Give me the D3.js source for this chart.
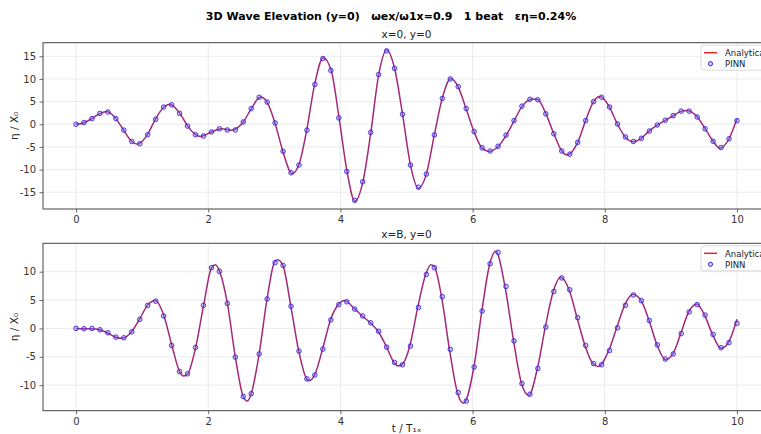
<!DOCTYPE html>
<html>
<head>
<meta charset="utf-8">
<script src="https://cdn.jsdelivr.net/npm/d3@7"></script>
<style>
  html, body { margin: 0; padding: 0; background: #fff; overflow: hidden; }
  svg { display: block; font-family: "DejaVu Sans", sans-serif; }
  .suptitle { white-space: pre; }
</style>
</head>
<body>
<svg id="chart" width="761" height="434"></svg>
<script>
// PINN evaluation times (t / T1x), 84 samples over 0..10
const pinnTimes = [0, 0.120, 0.241, 0.361, 0.482, 0.602, 0.723, 0.843, 0.964, 1.084,
  1.205, 1.325, 1.446, 1.566, 1.687, 1.807, 1.928, 2.048, 2.169, 2.289,
  2.410, 2.530, 2.651, 2.771, 2.892, 3.012, 3.133, 3.253, 3.373, 3.494,
  3.614, 3.735, 3.855, 3.976, 4.096, 4.217, 4.337, 4.458, 4.578, 4.699,
  4.819, 4.940, 5.060, 5.181, 5.301, 5.422, 5.542, 5.663, 5.783, 5.904,
  6.024, 6.145, 6.265, 6.386, 6.506, 6.627, 6.747, 6.867, 6.988, 7.108,
  7.229, 7.349, 7.470, 7.590, 7.711, 7.831, 7.952, 8.072, 8.193, 8.313,
  8.434, 8.554, 8.675, 8.795, 8.916, 9.036, 9.157, 9.277, 9.398, 9.518,
  9.639, 9.759, 9.880, 10.000];

// PINN elevation at x=0, y=0
const pinnEtaX0 = [0, 0.37, 1.25, 2.4, 2.7, 1.25, -1.3, -3.8, -4.3, -2.3,
  1.1, 3.8, 4.3, 2.4, -0.4, -2.3, -2.6, -1.7, -1.0, -1.25,
  -1.25, 0.5, 3.46, 5.96, 4.9, 0.3, -5.96, -10.7, -9.0, -1.3,
  8.8, 14.5, 11.9, 1.4, -10.4, -16.8, -12.7, -1.8, 10.96, 16.2,
  12.35, 2.2, -9.0, -13.9, -11.0, -2.35, 5.7, 10.0, 8.3, 3.46,
  -1.6, -5.2, -5.9, -4.85, -2.4, 0.8, 4.0, 5.5, 5.4, 2.3,
  -2.1, -5.9, -6.6, -4.0, 0.8, 5.0, 5.96, 3.8, 0.07, -2.8,
  -3.8, -3.1, -1.5, -0.15, 0.9, 1.9, 2.9, 2.9, 1.6, -1.0,
  -3.75, -5.15, -3.2, 0.8];

// PINN elevation at x=B, y=0
const pinnEtaXB = [0, -0.06, 0, -0.24, -0.76, -1.53, -1.65, -0.6, 1.6, 4.06,
  4.8, 2.2, -3.0, -7.6, -8.0, -3.35, 4.06, 10.7, 10.06, 4.4,
  -5.06, -12.0, -11.5, -4.5, 5.2, 11.6, 11.1, 3.9, -4.0, -8.9,
  -8.2, -3.65, 1.5, 4.2, 4.7, 3.4, 2.2, 1.0, -0.5, -3.3,
  -6.0, -6.4, -3.1, 3.7, 9.5, 10.7, 5.6, -3.7, -11.3, -12.8,
  -6.8, 3.06, 11.4, 13.4, 7.4, -2.2, -9.7, -11.6, -7.06, 0.24,
  6.5, 8.9, 6.8, 1.9, -3.0, -6.2, -6.4, -3.9, 0.1, 4.06,
  5.9, 4.9, 1.4, -2.9, -5.4, -4.5, -0.9, 2.9, 4.2, 2.35,
  -1.06, -3.4, -2.5, 0.9];

// Analytical solution at x=0, y=0
const analyticTimesX0 = [0, 0.12, 0.24, 0.36, 0.47, 0.60, 0.72, 0.84, 0.93, 1.08,
  1.20, 1.33, 1.42, 1.57, 1.69, 1.81, 1.88, 2.05, 2.20, 2.35,
  2.53, 2.65, 2.79, 2.89, 3.01, 3.13, 3.27, 3.37, 3.49, 3.61,
  3.74, 3.86, 3.98, 4.10, 4.22, 4.34, 4.46, 4.58, 4.70, 4.82,
  4.94, 5.06, 5.18, 5.30, 5.42, 5.54, 5.67, 5.78, 5.90, 6.02,
  6.14, 6.25, 6.39, 6.51, 6.63, 6.75, 6.91, 6.99, 7.11, 7.23,
  7.35, 7.43, 7.59, 7.71, 7.83, 7.93, 8.07, 8.19, 8.31, 8.43,
  8.55, 8.67, 8.80, 8.92, 9.04, 9.16, 9.25, 9.40, 9.52, 9.64,
  9.74, 9.88, 10.0];
const analyticEtaX0 = [0, 0.35, 1.25, 2.35, 2.8, 1.3, -1.3, -3.75, -4.4, -2.3,
  1.1, 3.8, 4.4, 2.4, -0.4, -2.3, -2.7, -1.7, -1.0, -1.3,
  0.5, 3.4, 6.0, 4.9, 0.3, -6.0, -10.9, -9.0, -1.3, 8.8,
  14.7, 11.9, 1.4, -10.4, -17.0, -12.7, -1.8, 11.0, 16.4, 12.3,
  2.2, -9.0, -14.1, -11.0, -2.4, 5.7, 10.1, 8.3, 3.5, -1.6,
  -5.2, -6.0, -4.85, -2.4, 0.8, 4.0, 5.6, 5.4, 2.3, -2.1,
  -5.9, -6.8, -4.0, 0.8, 5.0, 6.1, 3.8, 0.07, -2.8, -3.85,
  -3.1, -1.5, -0.15, 0.9, 1.9, 2.9, 3.05, 1.6, -1.0, -3.75,
  -5.3, -3.2, 1.2];

// Analytical solution at x=B, y=0
const analyticTimesXB = [0, 0.12, 0.24, 0.36, 0.48, 0.60, 0.70, 0.84, 0.96, 1.08,
  1.20, 1.33, 1.45, 1.57, 1.63, 1.69, 1.81, 1.93, 2.05, 2.11,
  2.17, 2.29, 2.41, 2.53, 2.59, 2.65, 2.77, 2.89, 3.00, 3.05,
  3.13, 3.25, 3.37, 3.49, 3.53, 3.61, 3.73, 3.85, 3.97, 4.06,
  4.22, 4.33, 4.45, 4.57, 4.70, 4.81, 4.87, 4.93, 5.05, 5.17,
  5.29, 5.37, 5.42, 5.53, 5.65, 5.77, 5.86, 6.02, 6.14, 6.26,
  6.35, 6.49, 6.62, 6.74, 6.85, 6.98, 7.10, 7.22, 7.33, 7.46,
  7.58, 7.70, 7.82, 7.90, 8.06, 8.18, 8.30, 8.42, 8.55, 8.67,
  8.79, 8.92, 9.03, 9.15, 9.27, 9.39, 9.51, 9.63, 9.76, 9.87,
  10.0];
const analyticEtaXB = [0, -0.05, -0.05, -0.25, -0.8, -1.55, -1.75, -0.6, 1.6, 4.06,
  4.9, 2.2, -3.0, -7.7, -8.4, -8.0, -3.35, 4.06, 10.7, 11.2,
  10.1, 4.4, -5.06, -12.0, -12.8, -11.5, -4.5, 5.2, 11.6, 12.1,
  11.1, 3.9, -4.0, -8.9, -9.2, -8.2, -3.65, 1.5, 4.2, 4.9,
  3.4, 2.2, 1.0, -0.5, -3.3, -6.0, -6.6, -6.4, -3.1, 3.7,
  9.5, 11.2, 10.9, 5.6, -3.7, -11.3, -13.2, -6.8, 3.06, 11.4,
  13.6, 7.4, -2.2, -9.7, -11.8, -7.06, 0.24, 6.5, 9.0, 6.8,
  1.9, -3.0, -6.2, -6.7, -3.9, 0.1, 4.06, 6.0, 4.9, 1.4,
  -2.9, -5.5, -4.5, -0.9, 2.9, 4.3, 2.35, -1.06, -3.5, -2.5,
  1.6];

// Axis ticks
const xTicks = [0, 2, 4, 6, 8, 10];
const yTicksX0 = [-15, -10, -5, 0, 5, 10, 15];
const yTicksXB = [-10, -5, 0, 5, 10];

const titleText = "3D Wave Elevation (y=0)   \u03c9ex/\u03c91x=0.9   1 beat   \u03b5\u03b7=0.24%";
const panelTitles = ["x=0, y=0", "x=B, y=0"];
const legendLabels = ["Analytical", "PINN"];

const svg = d3.select("#chart");

const lineColor = "#a3287c";
const legendLineColor = "#e8262a";
const markerColor = "#3326d8";

svg.append("text")
  .attr("class", "suptitle")
  .attr("x", 391).attr("y", 20)
  .attr("text-anchor", "middle")
  .attr("font-size", 11).attr("font-weight", "bold").attr("fill", "#000")
  .text(titleText);

const panels = [
  { top: 42.7, bottom: 209, yDomain: [-18.7, 18.0], yTicks: yTicksX0,
    aT: analyticTimesX0, aE: analyticEtaX0, pE: pinnEtaX0, title: panelTitles[0], xlabel: false },
  { top: 243.3, bottom: 410.7, yDomain: [-14.5, 15.0], yTicks: yTicksXB,
    aT: analyticTimesXB, aE: analyticEtaXB, pE: pinnEtaXB, title: panelTitles[1], xlabel: true }
];

const left = 43, right = 770;

panels.forEach((p, idx) => {
  const x = d3.scaleLinear().domain([-0.5, 10.5]).range([left, right]);
  const y = d3.scaleLinear().domain(p.yDomain).range([p.bottom, p.top]);
  const g = svg.append("g");
  const clipId = "clip" + idx;
  g.append("clipPath").attr("id", clipId)
    .append("rect").attr("x", left).attr("y", p.top)
    .attr("width", right - left).attr("height", p.bottom - p.top);

  // grid
  g.append("g").selectAll("line").data(xTicks).join("line")
    .attr("x1", d => x(d)).attr("x2", d => x(d))
    .attr("y1", p.top).attr("y2", p.bottom)
    .attr("stroke", "#e6e6e6").attr("stroke-width", 0.8);
  g.append("g").selectAll("line").data(p.yTicks).join("line")
    .attr("x1", left).attr("x2", right)
    .attr("y1", d => y(d)).attr("y2", d => y(d))
    .attr("stroke", "#e6e6e6").attr("stroke-width", 0.8);

  // axes
  const xAxis = d3.axisBottom(x).tickValues(xTicks).tickSize(3.5).tickPadding(3.5)
    .tickFormat(d3.format("d"));
  const yAxis = d3.axisLeft(y).tickValues(p.yTicks).tickSize(3.5).tickPadding(3.5)
    .tickFormat(d => String(d));
  const gx = g.append("g").attr("transform", `translate(0,${p.bottom})`).call(xAxis);
  const gy = g.append("g").attr("transform", `translate(${left},0)`).call(yAxis);
  [gx, gy].forEach(a => {
    a.select(".domain").remove();
    a.selectAll(".tick line").attr("stroke", "#444").attr("stroke-width", 0.8);
    a.selectAll(".tick text").attr("fill", "#333").attr("font-size", 10)
      .attr("font-family", "DejaVu Sans, sans-serif");
  });

  // analytical curve
  const pts = p.aT.map((t, i) => [t, p.aE[i]]);
  const line = d3.line().x(d => x(d[0])).y(d => y(d[1])).curve(d3.curveMonotoneX);
  g.append("path").datum(pts)
    .attr("clip-path", `url(#${clipId})`)
    .attr("d", line).attr("fill", "none")
    .attr("stroke", lineColor).attr("stroke-width", 1.5);

  // PINN markers
  g.append("g").attr("clip-path", `url(#${clipId})`)
    .selectAll("circle").data(pinnTimes).join("circle")
    .attr("cx", d => x(d)).attr("cy", (d, i) => y(p.pE[i]))
    .attr("r", 2.3)
    .attr("fill", "rgba(110,100,250,0.35)")
    .attr("stroke", markerColor).attr("stroke-width", 1).attr("stroke-opacity", 0.85);

  // frame
  g.append("rect").attr("x", left).attr("y", p.top)
    .attr("width", right - left).attr("height", p.bottom - p.top)
    .attr("fill", "none").attr("stroke", "#444").attr("stroke-width", 1);

  // panel title
  svg.append("text").attr("x", (left + right) / 2).attr("y", p.top - 5)
    .attr("text-anchor", "middle").attr("font-size", 10.5).attr("fill", "#222")
    .text(p.title);

  // y label
  svg.append("text")
    .attr("transform", `translate(18,${(p.top + p.bottom) / 2}) rotate(-90)`)
    .attr("text-anchor", "middle").attr("font-size", 10.5).attr("fill", "#222")
    .text("\u03b7 / X\u2080");

  if (p.xlabel) {
    svg.append("text").attr("x", (left + right) / 2).attr("y", 432)
      .attr("text-anchor", "middle").attr("font-size", 10.5).attr("fill", "#222")
      .text("t / T\u2081\u2093");
  }

  // legend
  const lg = svg.append("g").attr("transform", `translate(701,${p.top + 2.5})`);
  lg.append("rect").attr("x", 0).attr("y", 0).attr("width", 90).attr("height", 25)
    .attr("rx", 2.5).attr("fill", "rgba(255,255,255,0.85)")
    .attr("stroke", "#d0d0d0").attr("stroke-width", 0.8);
  lg.append("line").attr("x1", 3).attr("x2", 16).attr("y1", 7.5).attr("y2", 7.5)
    .attr("stroke", legendLineColor).attr("stroke-width", 1.5);
  lg.append("circle").attr("cx", 9.5).attr("cy", 18.5).attr("r", 2.1)
    .attr("fill", "rgba(110,100,250,0.35)").attr("stroke", markerColor).attr("stroke-width", 1);
  lg.append("text").attr("x", 24).attr("y", 11).attr("font-size", 8.5).attr("fill", "#222")
    .text(legendLabels[0]);
  lg.append("text").attr("x", 24).attr("y", 22).attr("font-size", 8.5).attr("fill", "#222")
    .text(legendLabels[1]);
});
</script>
</body>
</html>
